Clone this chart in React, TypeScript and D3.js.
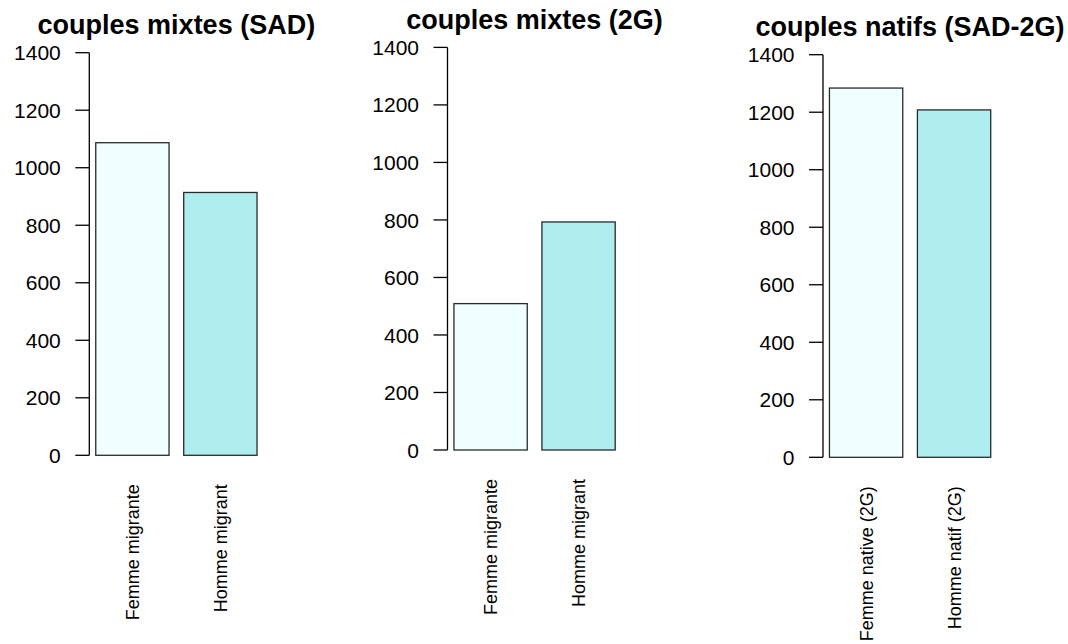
import React from "react";
import * as d3 from "d3";

// Bar labels and counts for each of the three panels
const titles = ["couples mixtes (SAD)", "couples mixtes (2G)", "couples natifs (SAD-2G)"];
const labelsMixtes = ["Femme migrante", "Homme migrant"];
const labelsNatifs = ["Femme native (2G)", "Homme natif (2G)"];
const valuesSAD = [1087, 914];
const values2G = [509, 793];
const valuesNatifs = [1284, 1208];
const yTicks = [0, 200, 400, 600, 800, 1000, 1200, 1400];
const barColors = ["#F0FFFF", "#AEEEEE"];

type Panel = {
  title: string;
  labels: string[];
  values: number[];
  axisX: number;
  y0: number;
};

const panels: Panel[] = [
  { title: titles[0], labels: labelsMixtes, values: valuesSAD, axisX: 89.3, y0: 455.3 },
  { title: titles[1], labels: labelsMixtes, values: values2G, axisX: 447.5, y0: 450 },
  { title: titles[2], labels: labelsNatifs, values: valuesNatifs, axisX: 823, y0: 457.3 },
];

const UNIT = 73.3; // pixels per bar-width unit
const Y_SPAN = 402.6; // pixels from 0 to 1400
const FONT = "'Liberation Sans', Arial, Helvetica, sans-serif";

function BarPanel({ p }: { p: Panel }) {
  // barplot-style user coordinates: bars of width 1 separated by 0.2
  const x = d3
    .scaleLinear()
    .domain([0.112, 2.488])
    .range([p.axisX, p.axisX + 2.376 * UNIT]);
  const y = d3.scaleLinear().domain([0, 1400]).range([p.y0, p.y0 - Y_SPAN]);
  const [xl, xr] = x.range();
  const cx = (xl + xr) / 2;

  return (
    <g>
      <text
        x={cx}
        y={y(1400) - 18.5}
        textAnchor="middle"
        fontFamily={FONT}
        fontWeight="bold"
        fontSize={27}
        fill="#000"
      >
        {p.title}
      </text>
      {/* y axis */}
      <line x1={p.axisX} x2={p.axisX} y1={y(0)} y2={y(1400)} stroke="#000" strokeWidth={1.3} />
      {yTicks.map((t) => (
        <g key={t}>
          <line x1={p.axisX - 14} x2={p.axisX} y1={y(t)} y2={y(t)} stroke="#000" strokeWidth={1.3} />
          <text
            x={p.axisX - 28.5}
            y={y(t)}
            dy="0.36em"
            textAnchor="end"
            fontFamily={FONT}
            fontSize={21}
            fill="#000"
          >
            {t}
          </text>
        </g>
      ))}
      {p.values.map((v, i) => {
        const left = 0.2 + i * 1.2;
        const x0 = x(left);
        const x1 = x(left + 1);
        const mid = (x0 + x1) / 2;
        return (
          <g key={i}>
            <rect
              x={x0}
              y={y(v)}
              width={x1 - x0}
              height={y(0) - y(v)}
              fill={barColors[i]}
              stroke="#2a2a2a"
              strokeWidth={1.3}
            />
            <text
              transform={`translate(${mid},${y(0) + 29}) rotate(-90)`}
              dy="0.36em"
              textAnchor="end"
              fontFamily={FONT}
              fontSize={18}
              fill="#000"
            >
              {p.labels[i]}
            </text>
          </g>
        );
      })}
    </g>
  );
}

export default function App() {
  return (
    <svg
      width={1068}
      height={644}
      style={{ position: "absolute", left: 0, top: 0, background: "#fff" }}
    >
      <rect width={1068} height={644} fill="#fff" />
      {panels.map((p, i) => (
        <BarPanel key={i} p={p} />
      ))}
    </svg>
  );
}
